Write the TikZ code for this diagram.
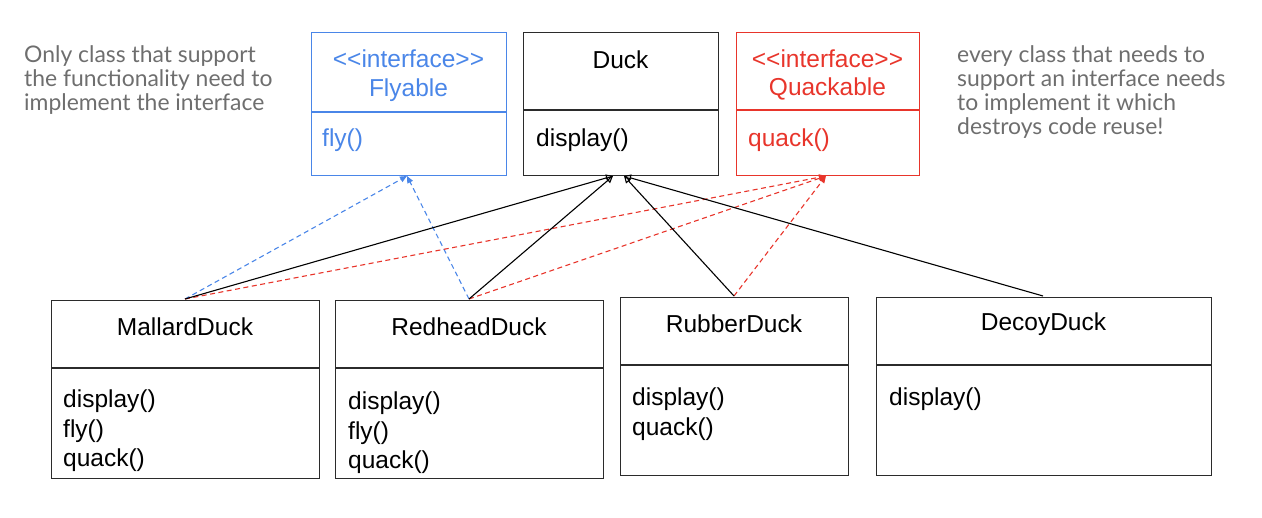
\documentclass[tikz,border=0pt]{standalone}
\usepackage{fontspec}
\setmainfont{Liberation Sans}
\newfontfamily\notefont{Lato}
\usetikzlibrary{arrows.meta}
\definecolor{ifblue}{HTML}{4A86E8}
\definecolor{ifred}{HTML}{E8352B}
\definecolor{notegray}{HTML}{6E6E6E}
\definecolor{boxline}{HTML}{2B2B2B}
\tikzset{
  classbox/.style={draw=boxline, line width=1.1pt, minimum width=#1, anchor=north west, inner sep=0pt},
  title/.style={font=\fontsize{24.5}{29.5}\selectfont, inner sep=0pt},
  members/.style={font=\fontsize{24.5}{29.5}\selectfont, align=left, anchor=north west, inner sep=0pt},
  note/.style={font=\notefont\fontsize{22.9}{24.2}\selectfont, text=notegray, align=left, anchor=north west, inner sep=0pt},
  inherit/.style={draw=black, line width=1.1pt, -{Triangle[open, length=7pt, width=7pt]}},
  flyreal/.style={draw=ifblue, line width=1.1pt, dash pattern=on 5pt off 3.5pt, -{Triangle[length=7pt, width=6pt]}},
  quackreal/.style={draw=ifred, line width=1.1pt, dash pattern=on 5pt off 3.5pt, -{Triangle[length=7pt, width=6pt]}},
}
\newcommand{\stereo}{<{}<interface>{}>}
\begin{document}
\begin{tikzpicture}[x=1pt, y=-1pt]
\useasboundingbox (0,0) rectangle (1262,518);

% interface and base class row
\node[classbox=195pt, minimum height=143pt, draw=ifblue] (fly) at (311,32) {};
\draw[ifblue, line width=1.1pt] (311,112) -- (506,112);
\node[title, text=ifblue] (flyst) at (408.5,59) {\stereo};
\node[title, text=ifblue] (flyname) at (408.5,90) {Flyable};
\node[members, text=ifblue] (flyops) at (322,129) {fly()};

\node[classbox=195pt, minimum height=143pt] (duck) at (523,32) {};
\draw[boxline, line width=1.1pt] (523,110) -- (718,110);
\node[title] (duckname) at (620.5,60) {Duck};
\node[members] (duckops) at (536,129) {display()};

\node[classbox=183pt, minimum height=143pt, draw=ifred] (quack) at (736,32) {};
\draw[ifred, line width=1.1pt] (736,110) -- (919,110);
\node[title, text=ifred] (quackst) at (827.5,59) {\stereo};
\node[title, text=ifred] (quackname) at (827.5,89) {Quackable};
\node[members, text=ifred] (quackops) at (748,129) {quack()};

% concrete ducks
\node[classbox=268pt, minimum height=178pt] (mallard) at (51,300) {};
\draw[boxline, line width=1.1pt] (51,368) -- (319,368);
\node[title] (mallardname) at (185,327) {MallardDuck};
\node[members] (mallardops) at (63,390) {display()\\fly()\\quack()};

\node[classbox=268pt, minimum height=178pt] (redhead) at (335,300) {};
\draw[boxline, line width=1.1pt] (335,368) -- (603,368);
\node[title] (redheadname) at (469,327) {RedheadDuck};
\node[members] (redheadops) at (348,392) {display()\\fly()\\quack()};

\node[classbox=228pt, minimum height=178pt] (rubber) at (620,297) {};
\draw[boxline, line width=1.1pt] (620,365) -- (848,365);
\node[title] (rubbername) at (734,324) {RubberDuck};
\node[members] (rubberops) at (632,388) {display()\\quack()};

\node[classbox=335pt, minimum height=178pt] (decoy) at (876,297) {};
\draw[boxline, line width=1.1pt] (876,365) -- (1211,365);
\node[title] (decoyname) at (1043.5,324) {DecoyDuck};
\node[members] (decoyops) at (889,388) {display()};

% attachment points on the box edges
\coordinate (mtop) at (185,299);
\coordinate (rtop) at (469,299);
\coordinate (utop) at (734,296);
\coordinate (dtop) at (1043,296);
\coordinate (duckL) at (613,176);
\coordinate (duckR) at (624,176);
\coordinate (flyB) at (407,176);
\coordinate (quackB) at (826,176);

% realizations
\draw[flyreal] (mtop) -- (flyB);
\draw[flyreal] (rtop) -- (flyB);
\draw[quackreal] (mtop) -- (quackB);
\draw[quackreal] (rtop) -- (quackB);
\draw[quackreal] (utop) -- (quackB);

% inheritance
\draw[inherit] (mtop) -- (duckL);
\draw[inherit] (rtop) -- (duckL);
\draw[inherit] (utop) -- (duckR);
\draw[inherit] (dtop) -- (duckR);

% side notes
\node[note] (leftnote) at (24,45) {Only class that support\\the functionality need to\\implement the interface};
\node[note] (rightnote) at (957,45) {every class that needs to\\support an interface needs\\to implement it which\\destroys code reuse!};
\end{tikzpicture}
\end{document}
